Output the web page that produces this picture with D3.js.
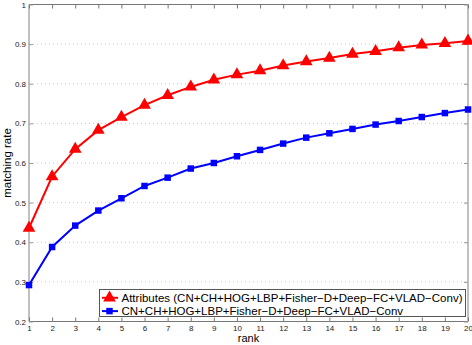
<!DOCTYPE html>
<html>
<head>
<meta charset="utf-8">
<script src="https://cdn.jsdelivr.net/npm/d3@7"></script>
<style>
  body { margin: 0; background: #fff; }
  text { font-family: "Liberation Sans", Arial, sans-serif; }
</style>
</head>
<body>
<svg width="472" height="345"></svg>
<script>
var ranks = d3.range(1, 21);
var attrRate = [0.436, 0.566, 0.635, 0.683, 0.716, 0.746, 0.771, 0.792, 0.810, 0.823, 0.833, 0.846, 0.856, 0.865, 0.875, 0.882, 0.891, 0.898, 0.902, 0.908];
var baseRate = [0.292, 0.388, 0.442, 0.480, 0.511, 0.542, 0.563, 0.586, 0.600, 0.617, 0.633, 0.649, 0.664, 0.675, 0.686, 0.697, 0.706, 0.716, 0.726, 0.735];
var yTicks = [0.2, 0.3, 0.4, 0.5, 0.6, 0.7, 0.8, 0.9, 1];
var seriesNames = ["Attributes (CN+CH+HOG+LBP+Fisher\u2212D+Deep\u2212FC+VLAD\u2212Conv)",
                   "CN+CH+HOG+LBP+Fisher\u2212D+Deep\u2212FC+VLAD\u2212Conv"];

function main() {
    var svg = d3.select("svg");
    var pLeft = 29, pRight = 468, pTop = 4.5, pBottom = 321.5;

    var x = d3.scaleLinear().domain([1, 20]).range([pLeft, pRight]);
    var y = d3.scaleLinear().domain([0.2, 1]).range([pBottom, pTop]);

    // horizontal dotted grid
    svg.append("g").selectAll("line")
        .data(yTicks.slice(1, -1))
        .enter().append("line")
        .attr("x1", pLeft).attr("x2", pRight)
        .attr("y1", function(d) { return y(d); })
        .attr("y2", function(d) { return y(d); })
        .attr("stroke", "#c8c8c8")
        .attr("stroke-width", 1)
        .attr("stroke-dasharray", "1,3");

    // box: top and bottom thin dark, left and right thicker light grey
    svg.append("line").attr("x1", pLeft).attr("x2", pRight).attr("y1", pTop).attr("y2", pTop)
        .attr("stroke", "#777").attr("stroke-width", 1);
    svg.append("line").attr("x1", pLeft).attr("x2", pRight).attr("y1", pBottom).attr("y2", pBottom)
        .attr("stroke", "#777").attr("stroke-width", 1);
    svg.append("line").attr("x1", pLeft).attr("x2", pLeft).attr("y1", pTop).attr("y2", pBottom)
        .attr("stroke", "#c0c0c0").attr("stroke-width", 2);
    svg.append("line").attr("x1", pRight).attr("x2", pRight).attr("y1", pTop).attr("y2", pBottom)
        .attr("stroke", "#c0c0c0").attr("stroke-width", 2);

    // x axis (ticks inward)
    var xAxis = svg.append("g")
        .attr("transform", "translate(0," + pBottom + ")")
        .call(d3.axisBottom(x).tickValues(ranks).tickSize(-4).tickPadding(4).tickFormat(d3.format("d")));
    xAxis.select(".domain").remove();
    xAxis.selectAll("line").attr("stroke", "#777");
    xAxis.selectAll("text").attr("font-size", "8px").attr("fill", "#222")
        .attr("font-family", "Liberation Sans, Arial, sans-serif");

    var xTop = svg.append("g")
        .attr("transform", "translate(0," + pTop + ")")
        .call(d3.axisTop(x).tickValues(ranks).tickSize(-4).tickFormat(""));
    xTop.select(".domain").remove();
    xTop.selectAll("line").attr("stroke", "#777");

    // y axis
    var yAxis = svg.append("g")
        .attr("transform", "translate(" + pLeft + ",0)")
        .call(d3.axisLeft(y).tickValues(yTicks).tickSize(-4).tickPadding(3).tickFormat(d3.format("~g")));
    yAxis.select(".domain").remove();
    yAxis.selectAll("line").attr("stroke", "#999");
    yAxis.selectAll("text").attr("font-size", "8px").attr("fill", "#222")
        .attr("font-family", "Liberation Sans, Arial, sans-serif");

    var yRight = svg.append("g")
        .attr("transform", "translate(" + pRight + ",0)")
        .call(d3.axisRight(y).tickValues(yTicks).tickSize(-4).tickFormat(""));
    yRight.select(".domain").remove();
    yRight.selectAll("line").attr("stroke", "#999");

    // axis labels
    svg.append("text")
        .attr("x", (pLeft + pRight) / 2).attr("y", 341.5)
        .attr("text-anchor", "middle").attr("font-size", "11px")
        .text("rank");
    svg.append("text")
        .attr("transform", "translate(11," + ((pTop + pBottom) / 2) + ") rotate(-90)")
        .attr("text-anchor", "middle").attr("font-size", "11.5px")
        .text("matching rate");

    // series
    var line = d3.line()
        .x(function(d, i) { return x(ranks[i]); })
        .y(function(d) { return y(d); });

    var tri = d3.symbol().type(d3.symbolTriangle).size(70);
    var sq = d3.symbol().type(d3.symbolSquare).size(42);

    svg.append("path").datum(baseRate)
        .attr("d", line).attr("fill", "none").attr("stroke", "#0000ff").attr("stroke-width", 2);
    svg.append("g").selectAll("path")
        .data(baseRate).enter().append("path")
        .attr("d", sq)
        .attr("transform", function(d, i) { return "translate(" + x(ranks[i]) + "," + y(d) + ")"; })
        .attr("fill", "#0000ff");

    svg.append("path").datum(attrRate)
        .attr("d", line).attr("fill", "none").attr("stroke", "#ff0000").attr("stroke-width", 2);
    svg.append("g").selectAll("path")
        .data(attrRate).enter().append("path")
        .attr("d", tri)
        .attr("transform", function(d, i) { return "translate(" + x(ranks[i]) + "," + y(d) + ")"; })
        .attr("fill", "#ff0000");

    // legend
    var lg = svg.append("g").attr("transform", "translate(99.5,289.5)");
    lg.append("rect").attr("width", 366).attr("height", 27)
        .attr("fill", "#fff").attr("stroke", "#555").attr("stroke-width", 1);
    var colors = ["#ff0000", "#0000ff"];
    var shapes = [tri, sq];
    seriesNames.forEach(function(name, i) {
        var yy = 8.3 + i * 13.3;
        lg.append("line").attr("x1", 2.5).attr("x2", 18.5).attr("y1", yy).attr("y2", yy)
            .attr("stroke", colors[i]).attr("stroke-width", 2);
        lg.append("path").attr("d", shapes[i]).attr("transform", "translate(10," + yy + ")")
            .attr("fill", colors[i]);
        lg.append("text").attr("x", 22).attr("y", yy + 4.2)
            .attr("font-size", "11.5px").attr("fill", "#000")
            .text(name);
    });
}
main();
</script>
</body>
</html>
